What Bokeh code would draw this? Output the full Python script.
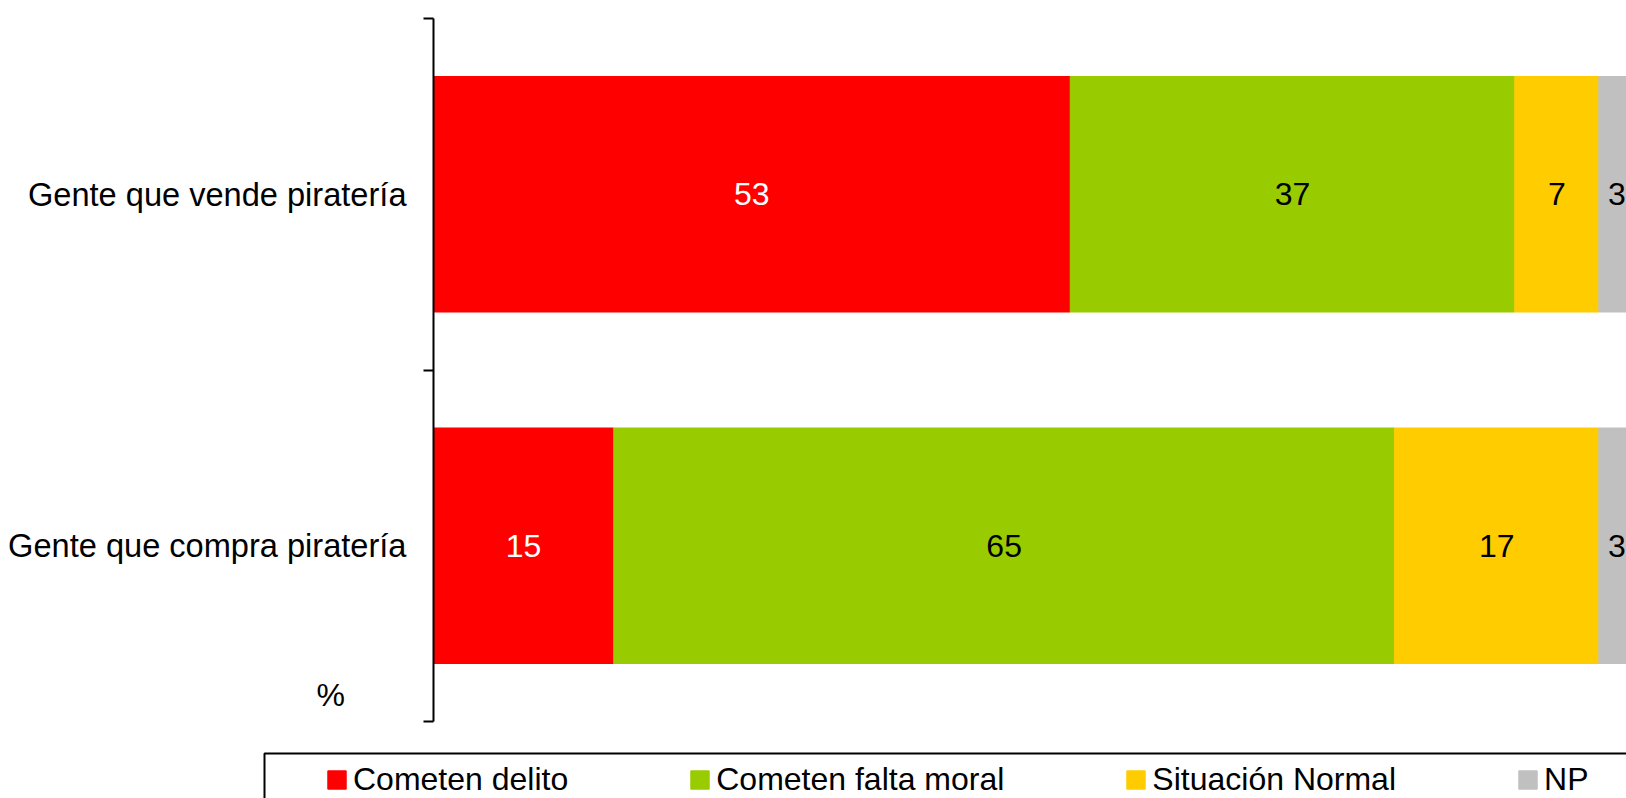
import numpy as np
from bokeh.plotting import figure
from bokeh.models import (ColumnDataSource, Range1d, FixedTicker, Legend, LegendItem,
                          BoxAnnotation, Label)
from bokeh.embed import file_html
from bokeh.resources import INLINE
from bokeh.core.properties import value

# ---- data ----
categories = ["Gente que vende piratería", "Gente que compra piratería"]
series = ["Cometen delito", "Cometen falta moral", "Situación Normal", "NP"]
cometen_delito = [53, 15]
cometen_falta_moral = [37, 65]
situacion_normal = [7, 17]
np_values = [3, 3]
unit_label = "%"

# ---- style / layout ----
colors = ["#FF0000", "#99CC00", "#FFCC00", "#C0C0C0"]
label_colors = ["#FFFFFF", "#000000", "#000000", "#000000"]
FONT = "Liberation Sans"
FS = "32px"
W, H = 1626, 798
X0_PX = 433        # pixel where value 0 lies
X_MAX = 99.3       # value at right edge
Y_TOP_PX = 18      # pixel of top of category band
Y_BOT_PX = 721     # pixel of bottom of category band

values = [cometen_delito, cometen_falta_moral, situacion_normal, np_values]
n = len(categories)
ypos = [n - i - 0.5 for i in range(n)]

px_per_x = (W - X0_PX) / X_MAX
px_per_y = (Y_BOT_PX - Y_TOP_PX) / n
x_range = Range1d(-X0_PX / px_per_x, X_MAX)
y_range = Range1d(-(H - Y_BOT_PX) / px_per_y, n + Y_TOP_PX / px_per_y)

data = {"y": ypos}
for s, v in zip(series, values):
    data[s] = v
source = ColumnDataSource(data)

p = figure(width=W, height=H, x_range=x_range, y_range=y_range,
           x_axis_type=None, output_backend="svg", toolbar_location=None,
           min_border=0)
p.outline_line_color = None
p.ygrid.visible = False
p.background_fill_color = "white"
p.border_fill_color = "white"

renderers = p.hbar_stack(series, y="y", height=0.67, color=colors, source=source)

# value labels
arr = np.array(values, dtype=float)
lefts = np.vstack([np.zeros(arr.shape[1]), np.cumsum(arr, axis=0)[:-1]])
for j, s in enumerate(series):
    mids = lefts[j] + arr[j] / 2
    lsrc = ColumnDataSource(dict(x=list(mids), y=ypos, t=[str(v) for v in values[j]]))
    p.text(x="x", y="y", text="t", source=lsrc, text_color=label_colors[j],
           text_font=value(FONT), text_font_size=FS, text_align="center",
           text_baseline="middle")

# y axis at value 0: labels at category centres, ticks at boundaries
ax = p.yaxis[0]
ax.fixed_location = 0
ax.bounds = (0, n)
ax.ticker = FixedTicker(ticks=ypos, minor_ticks=list(range(n + 1)))
ax.major_label_overrides = {float(y): c for y, c in zip(ypos, categories)}
ax.major_tick_out = 0
ax.major_tick_in = 0
ax.minor_tick_out = 10
ax.minor_tick_in = 0
ax.minor_tick_line_color = "black"
ax.minor_tick_line_width = 2
ax.axis_line_color = "black"
ax.axis_line_width = 2
ax.major_label_standoff = 17
ax.major_label_text_font = FONT
ax.major_label_text_font_size = "32.6px"
ax.major_label_text_color = "black"

# legend box
box = BoxAnnotation(left=264, right=W + 50, top=H - 753, bottom=-20,
                    left_units="screen", right_units="screen",
                    top_units="screen", bottom_units="screen",
                    fill_alpha=0, line_color="black", line_width=2, line_alpha=1)
p.add_layout(box)

legend = Legend(items=[LegendItem(label=s, renderers=[r]) for s, r in zip(series, renderers)],
                orientation="horizontal", location=(325, 0),
                label_text_font=FONT, label_text_font_size=FS, label_text_color="black",
                glyph_width=23, glyph_height=23, label_standoff=5, spacing=120,
                padding=0, margin=0, border_line_color=None, background_fill_alpha=0)
p.add_layout(legend)

p.add_layout(Label(x=316, y=H - 694.5, x_units="screen", y_units="screen", text=unit_label,
                   text_font=FONT, text_font_size=FS, text_baseline="middle",
                   text_align="left", text_color="black"))

open("out.html", "w").write(file_html(p, INLINE))
